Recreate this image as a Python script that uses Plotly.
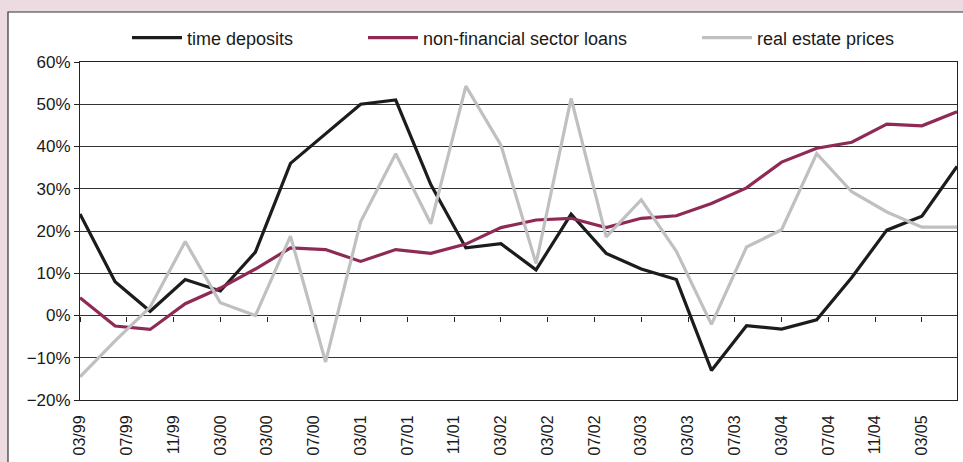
import plotly.graph_objects as go

# ---- data ----
months = [3 * i for i in range(26)]  # quarterly, 03/99 .. 06/05
time_deposits = [24, 8, 1, 8.5, 5.8, 15, 36, 43, 50, 51, 31, 16, 17, 10.8, 24,
                 14.7, 11, 8.5, -13, -2.4, -3.2, -1, 9, 20.2, 23.5, 35.3]
nonfin_loans = [4.2, -2.5, -3.3, 2.8, 6.5, 11, 16, 15.6, 12.8, 15.6, 14.7, 16.9, 20.8,
                22.6, 23, 20.8, 23, 23.6, 26.5, 30.2, 36.3, 39.6, 41, 45.3, 44.9, 48.2]
real_estate = [-14.5, -6, 2, 17.5, 3, 0, 18.8, -11, 22.2, 38.3, 21.7, 54.3, 40.3, 12.3,
               51.4, 18.6, 27.4, 15.2, -2.1, 16.2, 20.3, 38.3, 29.3, 24.5, 20.9, 20.9]
tick_labels = ["03/99", "07/99", "11/99", "03/00", "03/00", "07/00", "03/01", "07/01",
               "11/01", "03/02", "03/02", "07/02", "03/03", "03/03", "07/03", "03/04",
               "07/04", "11/04", "03/05"]
tick_months = [4 * k for k in range(len(tick_labels))]

series = [
    ("time deposits", time_deposits, "#1c1c1c", "legend"),
    ("non-financial sector loans", nonfin_loans, "#8e2a55", "legend2"),
    ("real estate prices", real_estate, "#c0c0c0", "legend3"),
]

W, H = 963, 462
L, R, T, B = 80, 6, 62, 62
pw, ph = W - L - R, H - T - B

def px_x(p):
    return (p - L) / pw

def px_y(p):
    return (H - B - p) / ph

fig = go.Figure()
for name, vals, col, lg in series:
    fig.add_trace(go.Scatter(x=months, y=vals, name=name, mode="lines",
                             line=dict(color=col, width=3.2), legend=lg))
# invisible trace to activate tick-mark axis at 0%
fig.add_trace(go.Scatter(x=[0, 75], y=[0, 0], xaxis="x2", mode="lines",
                         line=dict(width=0), showlegend=False, hoverinfo="skip"))

font = "Arial, Liberation Sans, sans-serif"
leg_common = dict(orientation="h", yanchor="middle", y=px_y(38), xanchor="left",
                  bgcolor="rgba(0,0,0,0)", font=dict(family=font, size=18, color="#1a1a1a"),
                  itemwidth=50)

fig.update_layout(
    width=W, height=H,
    margin=dict(l=L, r=R, t=T, b=B),
    paper_bgcolor="#ecdbe0",
    plot_bgcolor="rgba(0,0,0,0)",
    showlegend=True,
    legend=dict(x=px_x(127), **leg_common),
    legend2=dict(x=px_x(363), **leg_common),
    legend3=dict(x=px_x(697), **leg_common),
    xaxis=dict(range=[0, 75], tickvals=tick_months, ticktext=tick_labels,
               tickangle=-90, ticks="", showgrid=False, zeroline=False,
               showline=True, mirror=True, linecolor="#222", linewidth=1,
               tickfont=dict(family=font, size=16, color="#1a1a1a"),
               ticklabelstandoff=8),
    xaxis2=dict(range=[0, 75], overlaying="x", anchor="free", position=0.25,
                side="bottom", tickvals=tick_months, ticks="outside", ticklen=5,
                tickcolor="#222", showticklabels=False, showgrid=False,
                zeroline=False, showline=False),
    yaxis=dict(range=[-20, 60], dtick=10, ticksuffix="%", ticks="outside",
               ticklen=5, tickcolor="#222", showgrid=True, gridcolor="#333",
               gridwidth=1, zeroline=False, showline=True, mirror=True,
               linecolor="#222", linewidth=1,
               tickfont=dict(family=font, size=17, color="#1a1a1a")),
    shapes=[dict(type="rect", xref="paper", yref="paper", layer="below",
                 x0=px_x(8), x1=px_x(980), y0=px_y(480), y1=px_y(12),
                 fillcolor="white", line=dict(color="#333", width=1.2))],
)

fig.write_html("out.html")
